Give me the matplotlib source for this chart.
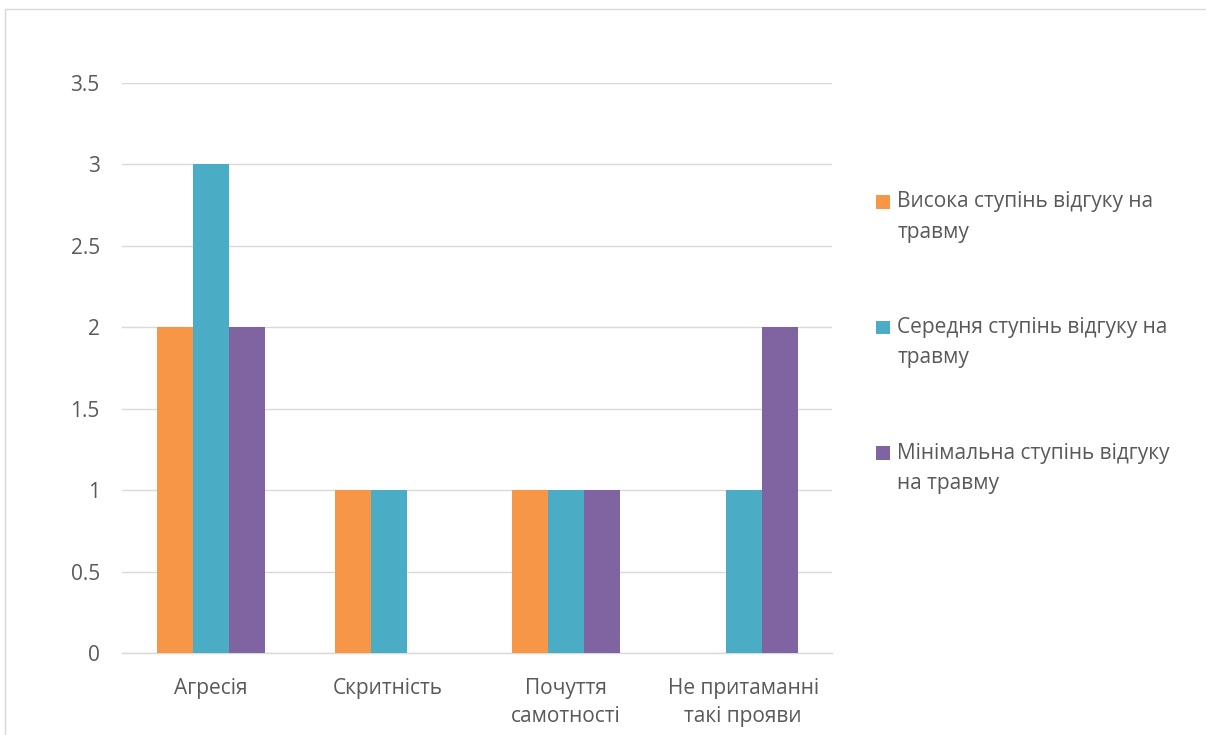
import numpy as np
import matplotlib
matplotlib.use("Agg")
import matplotlib.pyplot as plt
from matplotlib.patches import Rectangle
from matplotlib.legend_handler import HandlerPatch

# data
categories = ["Агресія", "Скритність", "Почуття\nсамотності", "Не притаманні\nтакі прояви"]
series_names = ["Висока ступінь відгуку на\nтравму",
                "Середня ступінь відгуку на\nтравму",
                "Мінімальна ступінь відгуку\nна травму"]
high = [2, 1, 1, 0]
medium = [3, 1, 1, 1]
minimal = [2, 0, 1, 2]
yticks = [0, 0.5, 1, 1.5, 2, 2.5, 3, 3.5]
ytick_labels = ["0", "0.5", "1", "1.5", "2", "2.5", "3", "3.5"]

colors = ["#F79646", "#4BACC6", "#8064A2"]
txt = "#595959"
grid = "#d9d9d9"
fs = 15

plt.rcParams["font.family"] = ["Open Sans", "DejaVu Sans"]

fig = plt.figure(figsize=(12.06, 7.35), dpi=100)
ax = fig.add_axes([122/1206, 1-653/735, (832-122)/1206, (653-83)/735])

x = np.arange(len(categories))
w = 0.203
bars = []
for i, vals in enumerate([high, medium, minimal]):
    b = ax.bar(x + (i-1)*w + 0.003, vals, width=w, color=colors[i], label=series_names[i], zorder=3)
    bars.append(b)

ax.set_xlim(-0.5, len(categories)-0.5)
ax.set_ylim(0, 3.5)
ax.set_yticks(yticks)
ax.set_yticklabels(ytick_labels)
ax.set_xticks(x)
ax.set_xticklabels(categories, linespacing=1.43)
ax.tick_params(axis="both", length=0, labelsize=fs, colors=txt)
ax.tick_params(axis="y", pad=16)
ax.tick_params(axis="x", pad=18)
ax.yaxis.grid(True, color=grid, lw=1)
ax.set_axisbelow(True)
for s in ["top", "right", "left"]:
    ax.spines[s].set_visible(False)
ax.spines["bottom"].set_color(grid)
ax.spines["bottom"].set_linewidth(1)


# legend squares sit next to the first text line
def first_line_patch(legend, orig_handle, xdescent, ydescent, width, height, fontsize):
    return Rectangle((-xdescent, -ydescent + fontsize*0.77), width, height)

leg = fig.legend(handles=[b[0] for b in bars], labels=series_names, loc="upper left",
                 bbox_to_anchor=(866/1206, 1-181/735), frameon=False,
                 fontsize=fs, labelcolor=txt, handlelength=0.63, handleheight=0.63,
                 handletextpad=0.38, labelspacing=3.57, borderpad=0,
                 handler_map={Rectangle: HandlerPatch(patch_func=first_line_patch)})
for t in leg.get_texts():
    t.set_linespacing(1.58)

# outer frame of the chart
fig.add_artist(Rectangle((5/1206, -0.05), 1.2, 1 - 9/735 + 0.05, transform=fig.transFigure,
                         fill=False, ec=grid, lw=1))

fig.savefig("out.png", dpi=100)
